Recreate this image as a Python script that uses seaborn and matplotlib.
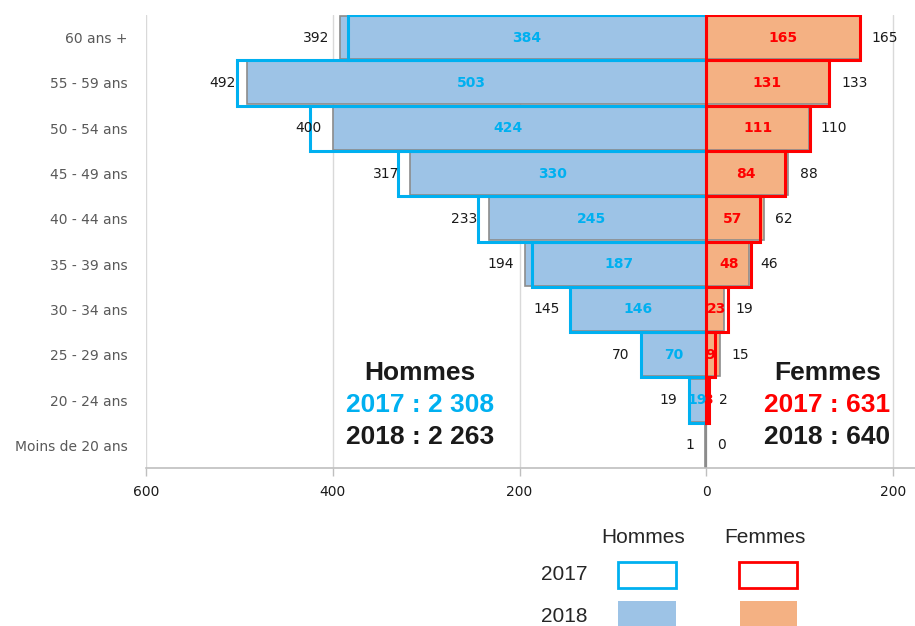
import numpy as np
import pandas as pd
import matplotlib.pyplot as plt
import seaborn as sns
from matplotlib.patches import Rectangle

sns.set_style("white")
plt.rcParams["font.family"] = ["DejaVu Sans"]

# ---------------------------------------------------------------
# DATA
# ---------------------------------------------------------------
ages = ["60 ans +", "55 - 59 ans", "50 - 54 ans", "45 - 49 ans", "40 - 44 ans",
        "35 - 39 ans", "30 - 34 ans", "25 - 29 ans", "20 - 24 ans", "Moins de 20 ans"]
hommes_2017 = [384, 503, 424, 330, 245, 187, 146, 70, 19, 0]
hommes_2018 = [392, 492, 400, 317, 233, 194, 145, 70, 19, 1]
femmes_2017 = [165, 131, 111, 84, 57, 48, 23, 9, 3, 0]
femmes_2018 = [165, 133, 110, 88, 62, 46, 19, 15, 2, 0]

xticks = [-600, -400, -200, 0, 200]
xtick_labels = ["600", "400", "200", "0", "200"]

BLEU_FOND, BLEU_TRAIT = "#9DC3E6", "#00B0F0"
ORANGE_FOND, ROUGE_TRAIT = "#F4B183", "#FF0000"


def long_form(h, f):
    df = pd.DataFrame({
        "age": ages * 2,
        "sexe": ["Hommes"] * len(ages) + ["Femmes"] * len(ages),
        "valeur": [-v for v in h] + list(f),
    })
    return df


d18 = long_form(hommes_2018, femmes_2018)
d17 = long_form(hommes_2017, femmes_2017)
d17 = d17[d17["valeur"] != 0]

# ---------------------------------------------------------------
# FIGURE
# ---------------------------------------------------------------
fig = plt.figure(figsize=(9.15, 6.26), dpi=100)
ax = fig.add_axes([0.1596, 0.2524, 0.8404, 0.7236])

ax.axvline(0, color="#7f7f7f", lw=1.5, zorder=0.9)

sns.barplot(data=d18, x="valeur", y="age", hue="sexe", order=ages,
            palette={"Hommes": BLEU_FOND, "Femmes": ORANGE_FOND}, saturation=1,
            dodge=False, width=0.95, edgecolor="#8c8c8c", linewidth=1.2,
            errorbar=None, legend=False, ax=ax)
sns.barplot(data=d17, x="valeur", y="age", hue="sexe", order=ages,
            palette={"Hommes": BLEU_TRAIT, "Femmes": ROUGE_TRAIT}, saturation=1,
            dodge=False, width=1.0, fill=False, linewidth=2.2,
            errorbar=None, legend=False, ax=ax)

# value labels
for i in range(len(ages)):
    ax.annotate(str(hommes_2018[i]), (-hommes_2018[i], i), xytext=(-8, 0),
                textcoords="offset points", ha="right", va="center",
                fontsize=10, color="#1a1a1a")
    ax.annotate(str(femmes_2018[i]), (femmes_2018[i], i), xytext=(8, 0),
                textcoords="offset points", ha="left", va="center",
                fontsize=10, color="#1a1a1a")
    if hommes_2017[i] > 0:
        ax.text(-hommes_2017[i] / 2, i, str(hommes_2017[i]), ha="center", va="center",
                fontsize=10, color=BLEU_TRAIT, fontweight="bold")
    if femmes_2017[i] > 0:
        ax.text(femmes_2017[i] / 2, i, str(femmes_2017[i]), ha="center", va="center",
                fontsize=10, color=ROUGE_TRAIT, fontweight="bold")

# totals
big = dict(ha="center", va="center", fontsize=19, fontweight="bold",
           family="Liberation Sans", transform=ax.transAxes)
ax.text(0.356, 0.210, "Hommes", color="#1a1a1a", **big)
ax.text(0.356, 0.139, f"2017 : {sum(hommes_2017):,}".replace(",", " "), color=BLEU_TRAIT, **big)
ax.text(0.356, 0.068, f"2018 : {sum(hommes_2018):,}".replace(",", " "), color="#1a1a1a", **big)
ax.text(0.886, 0.210, "Femmes", color="#1a1a1a", **big)
ax.text(0.886, 0.139, f"2017 : {sum(femmes_2017)}", color=ROUGE_TRAIT, **big)
ax.text(0.886, 0.068, f"2018 : {sum(femmes_2018)}", color="#1a1a1a", **big)

# axes styling
ax.set_xlim(-600, 223.5)
ax.set_ylim(len(ages) - 0.5, -0.5)
ax.set_xticks(xticks)
ax.set_xticklabels(xtick_labels)
ax.set_xlabel("")
ax.set_ylabel("")
ax.set_axisbelow(True)
ax.xaxis.grid(True, color="#D9D9D9", lw=1)
for s in ["top", "right", "left"]:
    ax.spines[s].set_visible(False)
ax.spines["bottom"].set_color("#BFBFBF")
ax.spines["bottom"].set_linewidth(1.2)
ax.tick_params(axis="x", length=6, color="#BFBFBF", width=1, labelsize=10,
               pad=6, labelcolor="#1a1a1a", bottom=True)
ax.tick_params(axis="y", length=0, labelsize=10, pad=13, labelcolor="#595959")

# custom legend
leg = dict(fontsize=15, family="Liberation Sans", color="#262626", ha="center", va="center")
fig.text(0.703, 0.142, "Hommes", **leg)
fig.text(0.836, 0.142, "Femmes", **leg)
fig.text(0.617, 0.0815, "2017", **leg)
fig.text(0.617, 0.0144, "2018", **leg)
fig.patches.extend([
    Rectangle((0.675, 0.0607), 0.0634, 0.0415, transform=fig.transFigure,
              fill=False, edgecolor=BLEU_TRAIT, lw=2),
    Rectangle((0.8077, 0.0607), 0.0634, 0.0415, transform=fig.transFigure,
              fill=False, edgecolor=ROUGE_TRAIT, lw=2),
    Rectangle((0.675, 0.0), 0.0634, 0.04, transform=fig.transFigure,
              facecolor=BLEU_FOND, edgecolor="none"),
    Rectangle((0.8087, 0.0), 0.0623, 0.04, transform=fig.transFigure,
              facecolor=ORANGE_FOND, edgecolor="none"),
])

fig.savefig("out.png", dpi=100)
